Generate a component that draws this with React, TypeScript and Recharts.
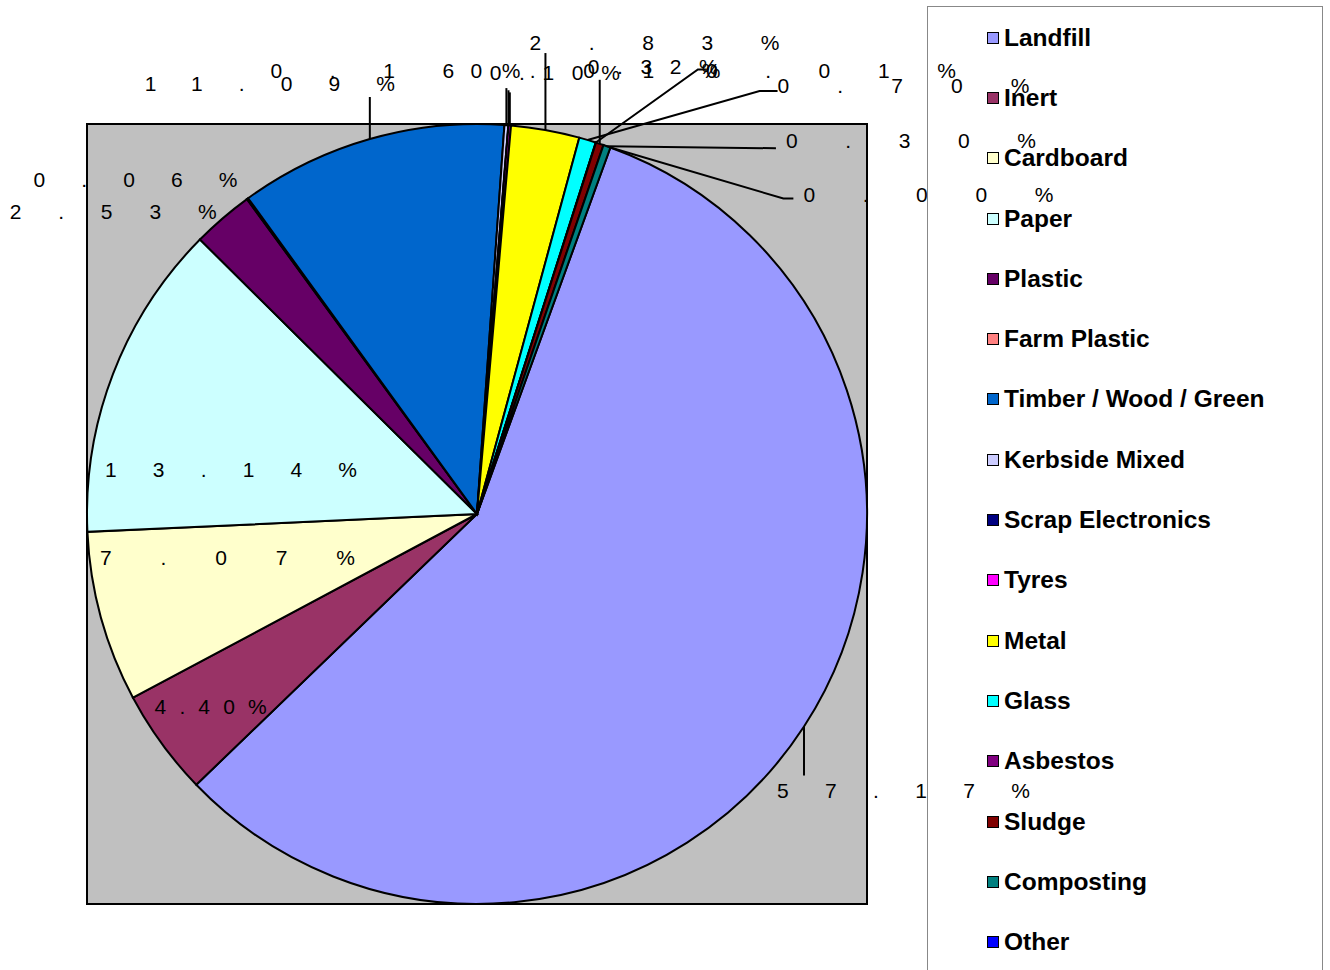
import React from 'react';
import { PieChart, Pie, Cell, Legend } from 'recharts';

const categories = [
  'Landfill', 'Inert', 'Cardboard', 'Paper', 'Plastic', 'Farm Plastic',
  'Timber / Wood / Green', 'Kerbside Mixed', 'Scrap Electronics', 'Tyres',
  'Metal', 'Glass', 'Asbestos', 'Sludge', 'Composting', 'Other',
];

const shares = [
  57.17, 4.4, 7.07, 13.14, 2.53, 0.06,
  11.09, 0.16, 0.01, 0.1,
  2.83, 0.7, 0.01, 0.32, 0.3, 0.0,
];

const colors = [
  '#9999FF', '#993366', '#FFFFCC', '#CCFFFF', '#660066', '#FF8080',
  '#0066CC', '#CCCCFF', '#000080', '#FF00FF',
  '#FFFF00', '#00FFFF', '#800080', '#800000', '#008080', '#0000FF',
];

const data = categories.map((name, i) => ({ name, value: shares[i] }));

// label placement, relative to the slice's outer midpoint
const labelLayout = [
  { dx: -27, dy: 71, len: 253, line: [[0, 49]] },
  { dx: -7, dy: -29, len: 112, line: [] },
  { dx: -1, dy: -52, len: 255, line: [] },
  { dx: -8, dy: 103, len: 252, line: [] },
  { dx: -213, dy: 1, len: 207, line: [] },
  { dx: -214, dy: -12, len: 204, line: [] },
  { dx: -225, dy: -48, len: 250, line: [[0, -42]] },
  { dx: -236, dy: -47, len: 250, line: [[0, -37]] },
  { dx: -38, dy: -47, len: 250, line: [[0, -35]] },
  { dx: -20, dy: -45, len: 130, line: [[0, -33]] },
  { dx: -16, dy: -80, len: 250, line: [[0, -77]] },
  { dx: 190, dy: -47, len: 252, line: [[172, -49], [190, -49]] },
  { dx: 110, dy: -65, len: 250, line: [[102, -73], [110, -73]] },
  { dx: -12, dy: -70, len: 130, line: [[0, -64]] },
  { dx: 179, dy: 2, len: 250, line: [[169, 2]] },
  { dx: 193, dy: 54, len: 250, line: [[173, 51], [183, 51]] },
];

const CX = 477;
const CY = 514;
const R = 390;
const FONT = '"Liberation Sans", Arial, sans-serif';

const renderLabel = (props: any) => {
  const { cx, cy, midAngle, outerRadius, index } = props;
  const rad = (-midAngle * Math.PI) / 180;
  const ax = cx + outerRadius * Math.cos(rad);
  const ay = cy + outerRadius * Math.sin(rad);
  const l = labelLayout[index];
  const pts = [[ax, ay], ...l.line.map(([x, y]) => [ax + x, ay + y])];
  return (
    <g key={`lbl-${index}`}>
      {l.line.length > 0 && (
        <polyline
          points={pts.map((p) => p.join(',')).join(' ')}
          fill="none"
          stroke="#000"
          strokeWidth={2}
        />
      )}
      <text
        x={ax + l.dx}
        y={ay + l.dy}
        textLength={l.len}
        lengthAdjust="spacing"
        fontSize={21}
        fontFamily={FONT}
        fill="#000"
        textAnchor="start"
      >
        {shares[index].toFixed(2) + '%'}
      </text>
    </g>
  );
};

// legend keeps the series order (no alphabetical sorting)
const renderLegend = () => (
  <div
    style={{
      boxSizing: 'border-box',
      width: 396,
      height: 964,
      border: '1px solid #888',
      borderBottom: 'none',
      background: 'transparent',
      paddingTop: 13,
      fontFamily: FONT,
    }}
  >
    {categories.map((name, i) => (
      <div
        key={name}
        style={{
          display: 'flex',
          alignItems: 'center',
          height: 60.3,
          marginLeft: 59,
        }}
      >
        <span
          style={{
            display: 'inline-block',
            width: 12,
            height: 12,
            boxSizing: 'border-box',
            border: '1px solid #000',
            background: colors[i],
            marginRight: 5,
            marginTop: -25,
          }}
        />
        <span
          style={{
            fontSize: 24.5,
            fontWeight: 'bold',
            color: '#000',
            marginTop: -25,
            whiteSpace: 'nowrap',
          }}
        >
          {name}
        </span>
      </div>
    ))}
  </div>
);

export default function App() {
  return (
    <div
      style={{
        position: 'absolute',
        left: 0,
        top: 0,
        width: 1330,
        height: 970,
        overflow: 'hidden',
        background: '#fff',
      }}
    >
      <div
        style={{
          position: 'absolute',
          left: CX - R - 1,
          top: CY - R - 1,
          width: 2 * R + 2,
          height: 2 * R + 2,
          boxSizing: 'border-box',
          border: '2px solid #000',
          background: '#C0C0C0',
        }}
      />
      <PieChart
        width={1330}
        height={970}
        margin={{ top: 0, right: 0, bottom: 0, left: 0 }}
        style={{ position: 'absolute', left: 0, top: 0 }}
      >
        <Legend
          content={renderLegend}
          wrapperStyle={{ position: 'absolute', left: 927, top: 6, width: 396, height: 964 }}
        />
        <Pie
          data={data}
          dataKey="value"
          nameKey="name"
          cx={CX}
          cy={CY}
          outerRadius={R}
          startAngle={70}
          endAngle={-290}
          stroke="#000"
          strokeWidth={2}
          label={renderLabel}
          labelLine={false}
          isAnimationActive={false}
        >
          {data.map((d, i) => (
            <Cell key={d.name} fill={colors[i]} />
          ))}
        </Pie>
      </PieChart>
    </div>
  );
}
